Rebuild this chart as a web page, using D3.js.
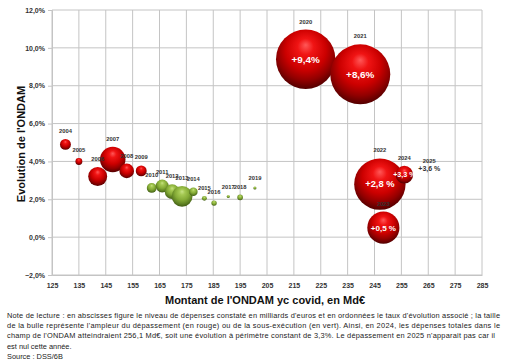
<!DOCTYPE html>
<html>
<head>
<meta charset="utf-8">
<script src="https://d3js.org/d3.v7.min.js"></script>
<style>
  body { margin: 0; background: #fff; }
  svg text { font-family: "Liberation Sans", Arial, sans-serif; }
</style>
</head>
<body>
<div id="chart"></div>
<script>
// Data
var years    = [2004, 2005, 2006, 2007, 2008, 2009, 2010, 2011, 2012, 2013, 2014,
                2015, 2016, 2017, 2018, 2019, 2020, 2021, 2022, 2023, 2024, 2025];
// ONDAM yc covid, Md€
var montant  = [130.0, 135.0, 142.0, 147.6, 152.8, 158.2, 162.1, 166.0, 169.7, 173.4, 177.6,
                181.7, 185.3, 190.6, 195.0, 200.5, 219.4, 239.7, 247.0, 248.3, 256.1, 265.4];
// evolution, %
var evolution = [4.9, 4.0, 3.2, 4.1, 3.5, 3.5, 2.6, 2.7, 2.4, 2.15, 2.4,
                 2.05, 1.8, 2.15, 2.1, 2.6, 9.4, 8.6, 2.8, 0.5, 3.3, 3.6];
// dépassement (+) / sous-exécution (-), Md€ (bubble size)
var ecart    = [0.5, 0.2, 1.5, 2.7, 0.9, 0.5, -0.4, -0.7, -0.9, -1.8, -0.3,
                -0.1, -0.12, -0.04, -0.13, -0.04, 14.7, 15.0, 11.0, 4.3, 1.3, 0];
// labels written on the bubbles
var bulleLabels = {2020: "+9,4%", 2021: "+8,6%", 2022: "+2,8 %", 2023: "+0,5 %", 2024: "+3,3 %", 2025: "+3,6 %"};

var xTicks = d3.range(125, 286, 10);
var yTicks = d3.range(-2, 12.1, 2);

var note = [
  "Note de lecture : en abscisses figure le niveau de dépenses constaté en milliards d'euros et en ordonnées le taux d'évolution associé ; la taille",
  "de la bulle représente l'ampleur du dépassement (en rouge) ou de la sous-exécution (en vert). Ainsi, en 2024, les dépenses totales dans le",
  "champ de l'ONDAM atteindraient 256,1 Md€, soit une évolution à périmètre constant de 3,3%. Le dépassement en 2025 n'apparait pas car il",
  "est nul cette année.",
  "Source : DSS/6B"
];

var width = 507, height = 363;
var svg = d3.select("#chart").append("svg")
  .attr("width", width).attr("height", height);

var x = d3.scaleLinear().domain([125, 285]).range([52, 482]);
var y = d3.scaleLinear().domain([-2, 12]).range([275, 10]);
var r = d3.scaleSqrt().domain([0, 15]).range([0, 30]);

// gradients for the 3D bubbles
var defs = svg.append("defs");
function sphere(id, stops) {
  var g = defs.append("radialGradient").attr("id", id)
    .attr("cx", "50%").attr("cy", "40%").attr("r", "62%")
    .attr("fx", "50%").attr("fy", "26%");
  stops.forEach(function(s) {
    g.append("stop").attr("offset", s[0]).attr("stop-color", s[1]);
  });
}
sphere("red", [["0%", "#ff5858"], ["22%", "#f01414"], ["55%", "#cc0000"], ["78%", "#920000"], ["100%", "#4a0000"]]);
sphere("green", [["0%", "#c6e284"], ["22%", "#a4c852"], ["55%", "#84aa36"], ["78%", "#618424"], ["100%", "#3c5612"]]);

// grid
svg.append("g").selectAll("line").data(xTicks).enter().append("line")
  .attr("x1", function(d) { return x(d); }).attr("x2", function(d) { return x(d); })
  .attr("y1", y(12)).attr("y2", y(-2))
  .attr("stroke", "#c4c4c4").attr("stroke-width", 1);
svg.append("g").selectAll("line").data(yTicks).enter().append("line")
  .attr("x1", x(125)).attr("x2", x(285))
  .attr("y1", function(d) { return y(d); }).attr("y2", function(d) { return y(d); })
  .attr("stroke", "#c4c4c4").attr("stroke-width", 1);

// axes
var fmt = function(d) { return d3.format(".1f")(d).replace(".", ",") + "%"; };
var yAxis = svg.append("g").attr("transform", "translate(" + x(125) + ",0)")
  .call(d3.axisLeft(y).tickValues(yTicks).tickFormat(fmt).tickSize(4).tickPadding(3));
var xAxis = svg.append("g").attr("transform", "translate(0," + y(-2) + ")")
  .call(d3.axisBottom(x).tickValues(xTicks).tickFormat(d3.format("d")).tickSize(0).tickPadding(8));
[yAxis, xAxis].forEach(function(a) {
  a.select(".domain").attr("stroke", "#c4c4c4");
  a.selectAll(".tick line").attr("stroke", "#c4c4c4");
  a.selectAll("text").attr("font-size", 7).attr("font-weight", "bold").attr("fill", "#333")
    .attr("font-family", "Liberation Sans, Arial, sans-serif");
});

svg.append("text").attr("x", 265).attr("y", 304).attr("text-anchor", "middle")
  .attr("font-size", 11).attr("font-weight", "bold").attr("fill", "#111")
  .text("Montant de l'ONDAM yc covid, en Md€");
svg.append("text").attr("transform", "translate(25," + 144 + ") rotate(-90)")
  .attr("text-anchor", "middle")
  .attr("font-size", 11).attr("font-weight", "bold").attr("fill", "#111")
  .text("Evolution de l'ONDAM");

// bubbles
var data = years.map(function(yr, i) {
  return { year: yr, x: montant[i], y: evolution[i], ecart: ecart[i], label: bulleLabels[yr] };
});

var g = svg.append("g");
g.selectAll("circle").data(data.filter(function(d) { return d.ecart !== 0; }))
  .enter().append("circle")
  .attr("cx", function(d) { return x(d.x); })
  .attr("cy", function(d) { return y(d.y); })
  .attr("r", function(d) { return r(Math.abs(d.ecart)); })
  .attr("fill", function(d) { return d.ecart > 0 ? "url(#red)" : "url(#green)"; });

// year labels
g.selectAll("text.yr").data(data).enter().append("text")
  .attr("class", "yr")
  .attr("x", function(d) { return x(d.x); })
  .attr("y", function(d) { return y(d.y) - r(Math.abs(d.ecart)) - 6; })
  .attr("text-anchor", "middle")
  .attr("font-size", 5.8).attr("font-weight", "bold").attr("fill", "#333")
  .text(function(d) { return d.year; });

// values on the bubbles
g.selectAll("text.val").data(data.filter(function(d) { return d.label; })).enter().append("text")
  .attr("class", "val")
  .attr("x", function(d) { return x(d.x); })
  .attr("y", function(d) { return y(d.y); })
  .attr("dy", "0.35em")
  .attr("text-anchor", "middle")
  .attr("font-weight", "bold")
  .attr("font-size", function(d) { return d.ecart > 0 ? 6 + r(d.ecart) * 0.13 : 7; })
  .attr("fill", function(d) { return d.ecart > 0 ? "#fff" : "#333"; })
  .text(function(d) { return d.label; });

// reading note
var noteG = svg.append("g");
note.forEach(function(line, i) {
  var t = noteG.append("text")
    .attr("x", 7).attr("y", 318 + i * 10.2)
    .attr("font-family", "Noto Sans, sans-serif")
    .attr("font-size", 7.4).attr("fill", "#222")
    .text(line);
  if (i < 3) t.attr("textLength", i == 2 ? 488 : 493).attr("lengthAdjust", "spacing");
});
</script>
</body>
</html>
